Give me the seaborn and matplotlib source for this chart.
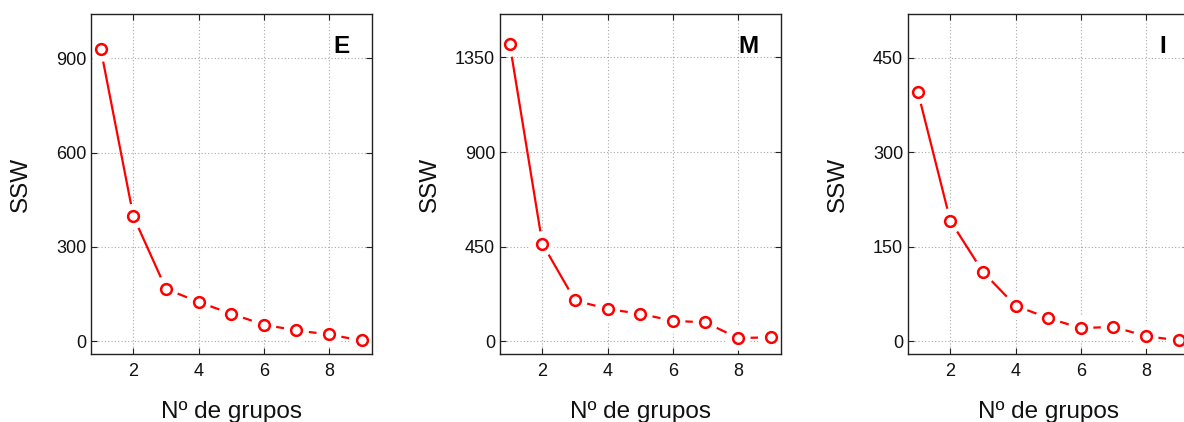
import matplotlib
matplotlib.use("Agg")
import matplotlib.pyplot as plt
import seaborn as sns
import pandas as pd

# Within-group sum of squares (SSW) versus number of groups
groups = [1, 2, 3, 4, 5, 6, 7, 8, 9]
ssw_E = [928, 397, 167, 125, 88, 53, 35, 22, 3]
ssw_M = [1412, 464, 195, 154, 131, 98, 90, 16, 19]
ssw_I = [396, 191, 110, 56.5, 37, 21, 23, 8.4, 1.6]

panel_names = ["E", "M", "I"]
panel_values = [ssw_E, ssw_M, ssw_I]
panel_yticks = [[0, 300, 600, 900], [0, 450, 900, 1350], [0, 150, 300, 450]]
panel_ylims = [(-40, 1040), (-60, 1556), (-20, 519)]
xticks = [2, 4, 6, 8]

sns.set_theme(style="white")
plt.rcParams["font.family"] = ["Liberation Sans", "DejaVu Sans"]

W, H = 1184, 422
fig = plt.figure(figsize=(W / 100, H / 100), dpi=100)

lefts = [91, 500, 908]
ax_w, ax_top, ax_bot = 281, 14, 354

for left, name, vals, yt, yl in zip(lefts, panel_names, panel_values,
                                    panel_yticks, panel_ylims):
    ax = fig.add_axes([left / W, (H - ax_bot) / H, ax_w / W, (ax_bot - ax_top) / H])
    df = pd.DataFrame({"groups": groups, "ssw": vals})

    sns.lineplot(data=df, x="groups", y="ssw", ax=ax, color="red",
                 linewidth=1.6, zorder=2)
    # white halo around each marker leaves a gap in the line
    sns.scatterplot(data=df, x="groups", y="ssw", ax=ax, s=330,
                    color="white", edgecolor="none", linewidth=0, zorder=2.2)
    sns.scatterplot(data=df, x="groups", y="ssw", ax=ax, s=60, marker="o",
                    facecolor="white", edgecolor="red", linewidth=1.8, zorder=4)

    ax.set_xlim(0.7, 9.32)
    ax.set_ylim(*yl)
    ax.set_xticks(xticks)
    ax.set_yticks(yt)
    ax.grid(True, linestyle=(0, (1, 2)), color="#a8a8a8", linewidth=0.8)
    ax.set_axisbelow(True)

    for sp in ax.spines.values():
        sp.set_visible(True)
        sp.set_color("#222222")
        sp.set_linewidth(1.0)
        sp.set_zorder(3)

    ax.tick_params(axis="both", which="major", direction="in", length=4,
                   width=0.8, color="#222222", top=True, right=True,
                   bottom=True, left=True, labelsize=13, labelcolor="#111111")
    ax.tick_params(axis="x", pad=6.5)
    ax.tick_params(axis="y", pad=3.5)

    ax.set_xlabel("Nº de grupos", fontsize=17.5, va="baseline", color="#111111")
    ax.xaxis.set_label_coords(0.5, -0.189)
    ax.set_ylabel("SSW", fontsize=17.5, va="center", color="#111111")
    ax.yaxis.set_label_coords(-0.249, 0.5)

    ax.text(0.92, 0.903, name, transform=ax.transAxes, ha="right", va="center",
            fontsize=17.5, fontweight="bold", color="black")

fig.savefig("out.png", dpi=100)
